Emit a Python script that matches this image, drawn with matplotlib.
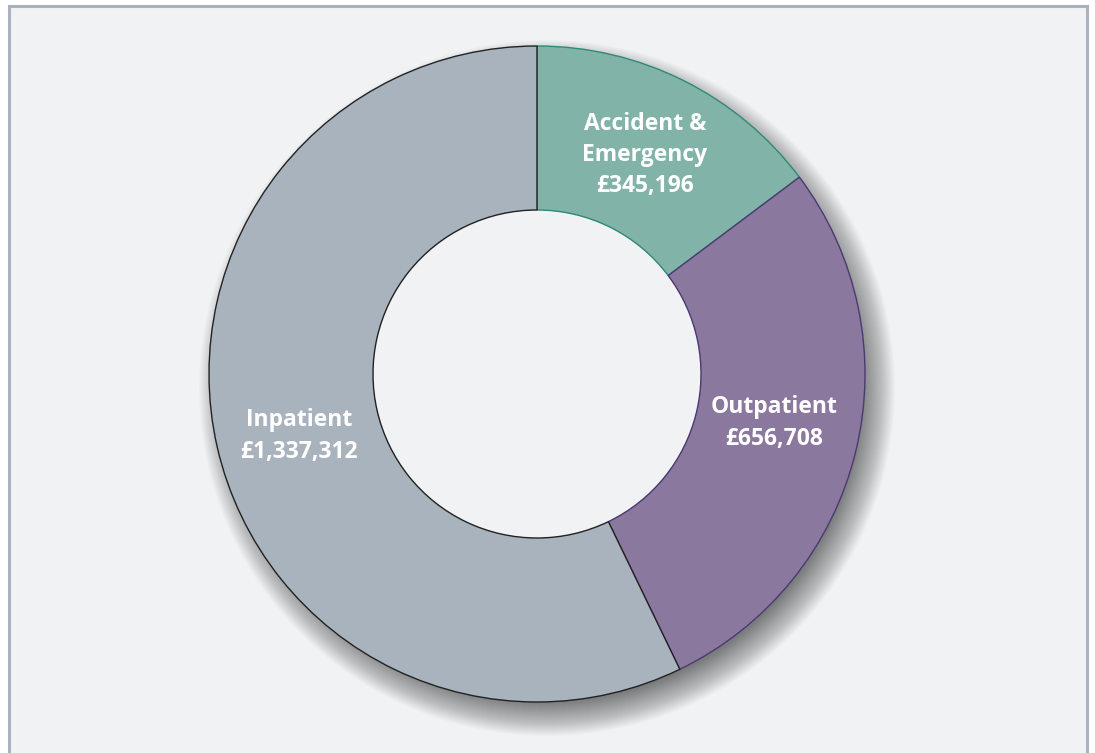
import matplotlib
matplotlib.use("Agg")
import matplotlib.pyplot as plt
from matplotlib.patches import Circle, Rectangle

# data
labels = ["Accident &\nEmergency", "Outpatient", "Inpatient"]
values = [345196, 656708, 1337312]
colors = ["#82b3a8", "#8a789e", "#a9b3bd"]
edges = ["#2e8a78", "#4a3a72", "#222222"]

plt.rcParams["font.family"] = ["Open Sans", "DejaVu Sans"]

W, H = 1095, 753
fig = plt.figure(figsize=(W / 100, H / 100), dpi=100)
fig.patch.set_facecolor("white")
ax = fig.add_axes([0, 0, 1, 1])
ax.set_xlim(0, W)
ax.set_ylim(0, H)
ax.axis("off")

bg = "#f1f2f4"
ax.add_patch(Rectangle((9, -10), 1078, H - 6 + 10, facecolor=bg,
                       edgecolor="#a9b3c0", linewidth=2.2, zorder=0))

cx, cy = 537, H - 374
R, r_in = 328, 164

# soft shadow down-right
for i in range(36):
    ax.add_patch(Circle((cx + 10, cy - 14), R + 20 - i, facecolor="black",
                        edgecolor="none", alpha=0.014, zorder=1))
ax.add_patch(Circle((cx, cy), r_in, facecolor=bg, edgecolor="none", zorder=2))

wedges, _ = ax.pie(values, colors=colors, startangle=90, counterclock=False,
                   radius=R, center=(cx, cy), frame=True,
                   wedgeprops=dict(width=R - r_in, linewidth=1.0))
for w, ec in zip(wedges, edges):
    w.set_edgecolor(ec)
    w.set_zorder(3)
ax.set_xlim(0, W)
ax.set_ylim(0, H)
ax.set_aspect("equal")
ax.axis("off")

text_pos = [(645, 155), (774, 423), (299, 436)]
for lab, v, (px, py) in zip(labels, values, text_pos):
    ax.text(px, H - py, f"{lab}\n£{v:,}", ha="center", va="center",
            color="white", fontsize=16.5, fontweight="bold",
            linespacing=1.4, zorder=5)

fig.savefig("out.png", dpi=100, facecolor="white")
